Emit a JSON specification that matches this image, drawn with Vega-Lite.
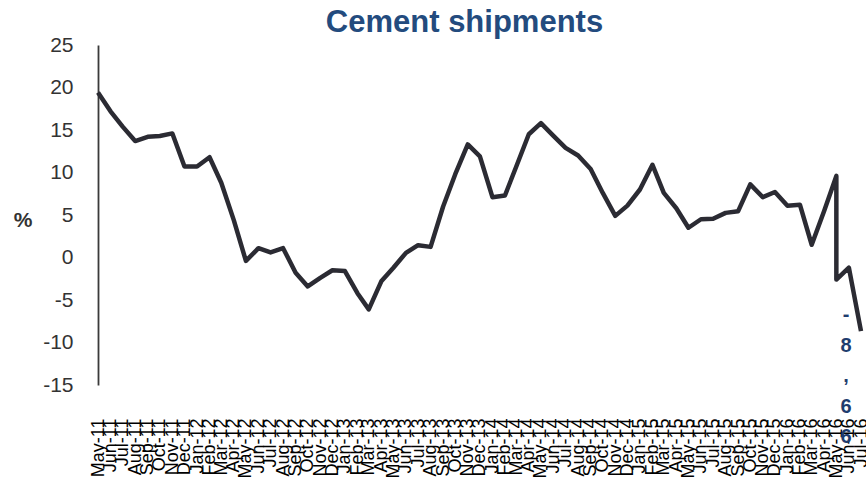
{
  "$schema": "https://vega.github.io/schema/vega-lite/v6.json",
  "autosize": {"type": "none"},
  "width": 763,
  "height": 340,
  "padding": {"left": 98, "top": 45, "right": 5, "bottom": 118},
  "background": "white",
  "config": {
    "view": {"stroke": null},
    "font": "Liberation Sans"
  },
  "title": {
    "text": "Cement shipments",
    "font": "Liberation Sans",
    "fontSize": 31,
    "fontWeight": "bold",
    "color": "#234B7E",
    "anchor": "middle",
    "frame": "group",
    "baseline": "alphabetic",
    "offset": 4,
    "dx": -15,
    "dy": 33
  },
  "datasets": {
    "shipments": [
      {"date": "2011-05-01", "value": 19.4},
      {"date": "2011-06-01", "value": 17.2},
      {"date": "2011-07-01", "value": 15.4},
      {"date": "2011-08-01", "value": 13.7},
      {"date": "2011-09-01", "value": 14.2},
      {"date": "2011-10-01", "value": 14.3},
      {"date": "2011-11-01", "value": 14.6},
      {"date": "2011-12-01", "value": 10.7},
      {"date": "2012-01-01", "value": 10.7},
      {"date": "2012-02-01", "value": 11.8},
      {"date": "2012-03-01", "value": 8.8},
      {"date": "2012-04-01", "value": 4.4},
      {"date": "2012-05-01", "value": -0.4},
      {"date": "2012-06-01", "value": 1.1},
      {"date": "2012-07-01", "value": 0.6},
      {"date": "2012-08-01", "value": 1.1},
      {"date": "2012-09-01", "value": -1.8},
      {"date": "2012-10-01", "value": -3.4},
      {"date": "2012-11-01", "value": -2.4},
      {"date": "2012-12-01", "value": -1.5},
      {"date": "2013-01-01", "value": -1.6},
      {"date": "2013-02-01", "value": -4.2},
      {"date": "2013-03-01", "value": -6.1},
      {"date": "2013-04-01", "value": -2.8},
      {"date": "2013-05-01", "value": -1.2},
      {"date": "2013-06-01", "value": 0.55},
      {"date": "2013-07-01", "value": 1.45},
      {"date": "2013-08-01", "value": 1.25},
      {"date": "2013-09-01", "value": 6.0},
      {"date": "2013-10-01", "value": 9.8},
      {"date": "2013-11-01", "value": 13.3},
      {"date": "2013-12-01", "value": 11.9},
      {"date": "2014-01-01", "value": 7.1},
      {"date": "2014-02-01", "value": 7.3},
      {"date": "2014-03-01", "value": 10.7},
      {"date": "2014-04-01", "value": 14.5},
      {"date": "2014-05-01", "value": 15.8},
      {"date": "2014-06-01", "value": 14.3},
      {"date": "2014-07-01", "value": 12.9},
      {"date": "2014-08-01", "value": 12.0},
      {"date": "2014-09-01", "value": 10.4},
      {"date": "2014-10-01", "value": 7.6},
      {"date": "2014-11-01", "value": 4.9},
      {"date": "2014-12-01", "value": 6.1},
      {"date": "2015-01-01", "value": 8.0},
      {"date": "2015-02-01", "value": 10.9},
      {"date": "2015-03-01", "value": 7.6},
      {"date": "2015-04-01", "value": 5.8},
      {"date": "2015-05-01", "value": 3.5},
      {"date": "2015-06-01", "value": 4.5},
      {"date": "2015-07-01", "value": 4.55},
      {"date": "2015-08-01", "value": 5.25},
      {"date": "2015-09-01", "value": 5.45},
      {"date": "2015-10-01", "value": 8.6},
      {"date": "2015-11-01", "value": 7.1},
      {"date": "2015-12-01", "value": 7.7},
      {"date": "2016-01-01", "value": 6.1},
      {"date": "2016-02-01", "value": 6.2},
      {"date": "2016-03-01", "value": 1.5},
      {"date": "2016-04-01", "value": 5.5},
      {"date": "2016-05-01", "value": 9.6},
      {"date": "2016-05-01", "value": -2.6},
      {"date": "2016-06-01", "value": -1.2},
      {"date": "2016-07-01", "value": -8.66}
    ],
    "lastLabel": [
      {"date": "2016-07-01", "value": -8.66, "label": "-\n8\n,\n6\n6"}
    ]
  },
  "layer": [
    {
      "data": {"name": "shipments"},
      "mark": {"type": "line", "color": "#2B2B33", "strokeWidth": 4.5, "strokeJoin": "round", "strokeCap": "butt"},
      "encoding": {
        "x": {
          "field": "date",
          "type": "temporal",
          "scale": {
            "type": "utc",
            "nice": false,
            "domain": [
              {"year": 2011, "month": 5, "date": 1, "utc": true},
              {"year": 2016, "month": 7, "date": 1, "utc": true}
            ]
          },
          "axis": {
            "title": null,
            "domain": false,
            "ticks": false,
            "tickSize": 0,
            "grid": false,
            "tickCount": {"interval": "month", "step": 1},
            "format": "%b-%y",
            "labelAngle": -90,
            "labelAlign": "right",
            "labelBaseline": "middle",
            "labelPadding": 33,
            "labelFont": "Liberation Sans",
            "labelFontSize": 18,
            "labelColor": "#000000",
            "labelOverlap": false,
            "labelFlush": false,
            "labelBound": false,
            "labelLimit": 0
          }
        },
        "y": {
          "field": "value",
          "type": "quantitative",
          "scale": {"domain": [-15, 25], "nice": false, "zero": false},
          "axis": {
            "title": "%",
            "titleAngle": 0,
            "titleAlign": "right",
            "titleBaseline": "middle",
            "titleX": -66,
            "titleY": 175,
            "titleFont": "Liberation Sans",
            "titleFontSize": 21,
            "titleFontWeight": "bold",
            "titleColor": "#333333",
            "values": [-15, -10, -5, 0, 5, 10, 15, 20, 25],
            "labelExpr": "toString(datum.value)",
            "grid": false,
            "ticks": false,
            "tickSize": 0,
            "domain": true,
            "domainColor": "#3A3A3A",
            "domainWidth": 1.8,
            "labelPadding": 25,
            "labelFont": "Liberation Sans",
            "labelFontSize": 21,
            "labelColor": "#333333",
            "labelFlush": false,
            "labelOverlap": false,
            "labelBound": false
          }
        },
        "order": {"value": null}
      }
    },
    {
      "mark": {"type": "rule", "color": "#222222", "strokeWidth": 1.5},
      "encoding": {"y": {"datum": 0, "type": "quantitative"}}
    },
    {
      "data": {"name": "lastLabel"},
      "mark": {
        "type": "text",
        "font": "Liberation Sans",
        "fontSize": 20,
        "fontWeight": "bold",
        "color": "#1F3D6E",
        "align": "center",
        "baseline": "top",
        "lineBreak": "\n",
        "lineHeight": 30.5,
        "dx": -15,
        "dy": -26
      },
      "encoding": {
        "x": {"field": "date", "type": "temporal"},
        "y": {"field": "value", "type": "quantitative"},
        "text": {"field": "label", "type": "nominal"}
      }
    }
  ]
}
